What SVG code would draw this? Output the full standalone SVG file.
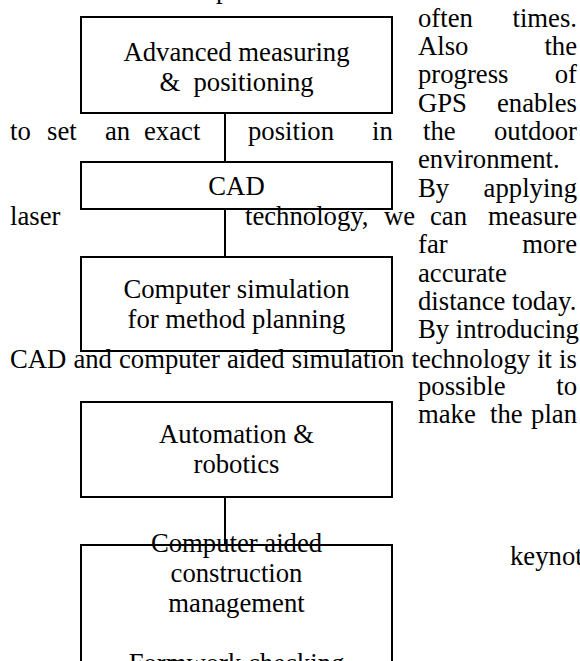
<svg xmlns="http://www.w3.org/2000/svg" width="580" height="661" viewBox="0 0 580 661">
<style>
  text { font-family: "Liberation Serif", "Times New Roman", serif; font-size: 26.7px; fill: #000; }
  .c { text-anchor: middle; }
  .e { text-anchor: end; }
  .box { fill: none; stroke: #000; stroke-width: 2; }
  .conn { stroke: #000; stroke-width: 2; fill: none; }
</style>
<rect width="580" height="661" fill="#fff"/>

<g id="body-text">
  <text x="216" y="-2">p</text>
  <text x="418" y="27">often</text><text class="e" x="577" y="27">times.</text>
  <text x="418" y="55">Also</text><text class="e" x="577" y="55">the</text>
  <text x="418" y="83">progress</text><text class="e" x="577" y="83">of</text>
  <text x="418" y="112">GPS</text><text class="e" x="577" y="112">enables</text>
  <text x="10" y="140">to</text><text x="47" y="140">set</text><text x="105" y="140">an</text><text x="144" y="140">exact</text><text x="248" y="140">position</text><text x="372" y="140">in</text><text x="423" y="140">the</text><text class="e" x="577" y="140">outdoor</text>
  <text x="418" y="168">environment.</text>
  <text x="418" y="197">By</text><text class="e" x="577" y="197">applying</text>
  <text x="10" y="225">laser</text><text x="245" y="225">technology,</text><text x="384" y="225">we</text><text x="430" y="225">can</text><text class="e" x="577" y="225">measure</text>
  <text x="418" y="253">far</text><text class="e" x="577" y="253">more</text>
  <text x="418" y="282">accurate</text>
  <text x="418" y="310">distance today.</text>
  <text x="418" y="338">By introducing</text>
  <text x="10" y="367.5" style="word-spacing:0.4px">CAD and computer aided simulation technology it is</text>
  <text x="418" y="395">possible</text><text class="e" x="577" y="395">to</text>
  <text x="418" y="423">make</text><text x="490" y="423">the</text><text class="e" x="577" y="423">plan</text>
  <text x="510" y="565">keynot</text>
</g>

<g id="connectors">
  <line class="conn" x1="225" y1="113" x2="225" y2="162"/>
  <line class="conn" x1="225" y1="209" x2="225" y2="257"/>
  <line class="conn" x1="225" y1="497" x2="225" y2="545"/>
</g>

<g id="node-measuring">
  <rect class="box" x="81" y="17" width="311" height="96"/>
  <text class="c" x="236.5" y="60.5">Advanced measuring</text>
  <text class="c" x="236.5" y="90.5" xml:space="preserve">&amp;  positioning</text>
</g>

<g id="node-cad">
  <rect class="box" x="81" y="162" width="311" height="47"/>
  <text class="c" x="236.5" y="195">CAD</text>
</g>

<g id="node-simulation">
  <rect class="box" x="81" y="257" width="311" height="94"/>
  <text class="c" x="236.5" y="298">Computer simulation</text>
  <text class="c" x="236.5" y="328">for method planning</text>
</g>

<g id="node-automation">
  <rect class="box" x="81" y="402" width="311" height="95"/>
  <text class="c" x="236.5" y="443">Automation &amp;</text>
  <text class="c" x="236.5" y="473">robotics</text>
</g>

<g id="node-management">
  <path class="box" d="M81,665 V545 H392 V665"/>
  <text class="c" x="236.5" y="552">Computer aided</text>
  <text class="c" x="236.5" y="582">construction</text>
  <text class="c" x="236.5" y="612">management</text>
  <text class="c" x="236.5" y="672">Formwork checking</text>
</g>
</svg>
